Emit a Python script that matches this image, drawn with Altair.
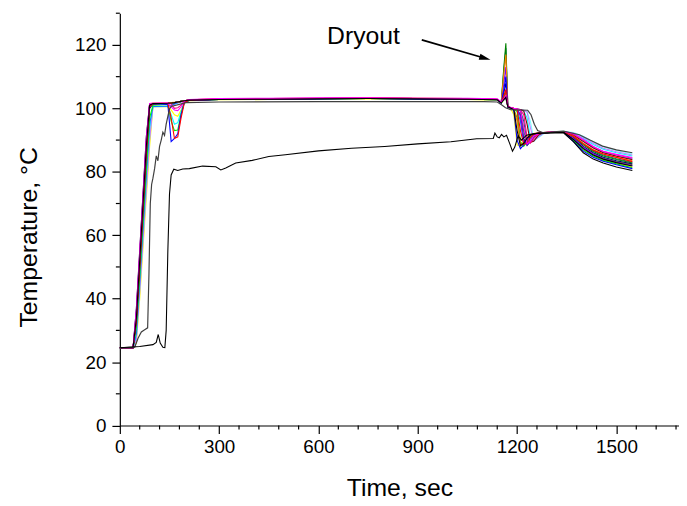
import altair as alt
import pandas as pd

# ---------------- data ----------------
time_s = [0, 40, 50, 60, 70, 80, 90, 100, 145, 155, 165, 175, 185, 195, 210, 300, 450, 600, 750, 900,
          1050, 1140, 1152, 1160, 1166, 1172, 1180, 1190, 1200, 1210, 1220, 1230, 1240, 1250, 1265, 1280,
          1300, 1340, 1370, 1400, 1430, 1460, 1500, 1548]

tc_red = [24.5, 24.5, 33, 50, 68, 86, 100.5, 101.5, 101.6, 97, 90.5, 91, 97, 101.8, 102.6, 102.9, 103.0, 103.1, 103.2, 103.1,
          103.0, 102.8, 101.8, 104, 106, 100.6, 100.2, 99.9, 99.6, 93, 88.6, 89.2, 90.8, 91.8, 92.2, 92.3,
          92.4, 92.6, 91.2, 88.8, 86.8, 85.6, 84.5, 83.2]
tc_blue = [24.5, 24.5, 37, 55, 73, 91, 101.4, 101.5, 101.2, 89.5, 90.5, 92, 98, 102, 102.5, 102.8, 102.9, 103.0, 103.1, 103.0,
           102.9, 102.7, 101.6, 106, 110, 100.4, 100.0, 99.4, 90, 87.3, 88.5, 90.2, 91.5, 92.0, 92.2, 92.3,
           92.4, 92.5, 89.6, 86.5, 84.6, 83.3, 82.2, 81.0]
tc_magenta = [24.5, 24.5, 36, 54, 72, 90, 101.5, 101.6, 101.7, 100.5, 99.5, 99.3, 100.5, 102.3, 102.8, 103.1, 103.2, 103.3, 103.3, 103.2,
              103.2, 103.0, 102.0, 103, 104, 100.6, 100.3, 100.0, 99.8, 99.4, 94, 88.8, 89.6, 91.2, 92.1, 92.4,
              92.5, 92.7, 92.0, 90.2, 88.0, 86.5, 85.5, 84.5]
tc_olive = [24.5, 24.5, 34, 51, 69, 87, 100.8, 101.5, 101.6, 101.7, 101.8, 102.0, 102.2, 102.4, 102.6, 102.8, 102.9, 103.0, 103.1, 103.0,
            102.9, 102.7, 101.7, 103.5, 105, 100.5, 100.1, 99.7, 97, 89, 88.4, 89.8, 91.2, 91.9, 92.2, 92.3,
            92.4, 92.5, 90.4, 87.6, 85.6, 84.3, 83.2, 82.2]
tc_navy = [24.5, 24.5, 33, 50, 67, 85, 100, 101.4, 101.6, 101.7, 101.8, 102.0, 102.2, 102.4, 102.6, 102.8, 103.0, 103.1, 103.1, 103.0,
           103.0, 102.8, 101.8, 105, 108, 100.5, 100.2, 99.9, 99.6, 98, 90.5, 88.3, 89.5, 91.0, 92.0, 92.3,
           92.4, 92.5, 90.8, 88.0, 86.0, 84.6, 83.5, 82.5]
tc_violet = [24.5, 24.5, 35, 53, 71, 89, 101.2, 101.5, 101.6, 101.7, 101.8, 102.0, 102.2, 102.4, 102.6, 102.9, 103.0, 103.1, 103.2, 103.1,
             103.0, 102.8, 101.8, 108, 113, 100.5, 100.2, 99.9, 99.7, 97.5, 89.5, 88.6, 89.8, 91.2, 92.0, 92.3,
             92.4, 92.5, 90.6, 87.6, 85.6, 84.1, 83.0, 82.0]
tc_wine = [24.5, 24.5, 34, 52, 70, 88, 101, 101.5, 101.6, 101.7, 101.8, 102.0, 102.2, 102.4, 102.6, 102.9, 103.0, 103.1, 103.2, 103.1,
           103.0, 102.8, 101.9, 102.8, 103.5, 100.6, 100.3, 100.0, 99.8, 99.6, 99.2, 95, 89.3, 89.6, 91.6, 92.3,
           92.5, 92.7, 91.6, 89.6, 87.6, 86.0, 84.9, 83.8]
tc_darkcyan = [24.5, 24.5, 35, 53, 71, 89, 101.2, 101.5, 101.6, 101.7, 101.8, 102.0, 102.2, 102.4, 102.6, 102.9, 103.0, 103.1, 103.2, 103.1,
               103.0, 102.8, 101.8, 112, 119, 100.6, 100.2, 99.9, 99.7, 99.3, 96, 89.5, 89.2, 90.8, 92.0, 92.3,
               92.4, 92.6, 91.3, 88.8, 86.7, 85.3, 84.1, 83.0]
tc_orange = [24.5, 24.5, 37, 55, 73, 91, 101.5, 101.6, 101.7, 101.8, 101.9, 102.0, 102.2, 102.4, 102.7, 103.0, 103.1, 103.2, 103.3, 103.2,
             103.1, 102.9, 101.9, 111, 117, 100.5, 100.1, 99.6, 96, 88.6, 88.8, 90.4, 91.6, 92.1, 92.3, 92.4,
             92.5, 92.6, 91.2, 89.0, 87.0, 85.6, 84.6, 83.5]
tc_pink = [24.5, 24.5, 36, 54, 72, 90, 101.4, 101.6, 101.7, 101.4, 100.0, 100.2, 101.0, 102.3, 102.7, 103.0, 103.1, 103.2, 103.3, 103.2,
           103.1, 102.9, 101.9, 103, 104, 100.6, 100.3, 100.0, 99.8, 99.5, 98, 91, 89.0, 90.5, 91.9, 92.3,
           92.5, 92.7, 91.8, 89.9, 87.9, 86.4, 85.3, 84.3]
tc_yellow = [24.5, 24.5, 26, 40, 56, 72, 88, 100.5, 100.6, 99.5, 98, 97.5, 99.5, 101.8, 102.4, 102.7, 102.8, 102.9, 103.0, 102.9,
             102.8, 102.6, 101.6, 102.5, 103, 100.4, 100.0, 98, 88.5, 88.0, 89.6, 91.0, 91.8, 92.1, 92.2, 92.3,
             92.4, 92.5, 90.0, 87.0, 85.1, 83.8, 82.7, 81.5]
tc_cyan = [24.5, 24.5, 28, 44, 60, 77, 93, 100.6, 100.6, 98, 95, 95.5, 99, 102.0, 102.5, 102.8, 102.9, 103.0, 103.1, 103.0,
           102.9, 102.7, 101.7, 103, 104, 100.5, 100.2, 99.9, 99.7, 99.5, 99.2, 97, 91, 89.6, 91.2, 92.2,
           92.5, 92.7, 92.1, 90.5, 88.6, 87.1, 86.0, 85.0]
tc_green = [24.5, 24.5, 31, 47, 64, 81, 97, 101.0, 101.2, 96, 93, 93.2, 98, 101.9, 102.5, 102.8, 102.9, 103.0, 103.1, 103.0,
            102.9, 102.7, 101.7, 103, 104, 100.5, 100.1, 99.8, 99.0, 89.5, 88.0, 89.4, 90.9, 91.8, 92.2, 92.3,
            92.4, 92.5, 89.9, 86.9, 85.0, 83.6, 82.5, 81.3]
tc_darkgreen = [24.5, 24.5, 35, 53, 71, 89, 101.2, 101.5, 101.6, 101.7, 101.8, 102.0, 102.2, 102.4, 102.6, 102.9, 103.0, 103.1, 103.2, 103.1,
                103.0, 102.8, 101.8, 113, 120.5, 100.6, 100.2, 99.9, 99.7, 99.2, 93, 89.0, 89.4, 91.0, 92.0, 92.3,
                92.4, 92.6, 91.1, 88.5, 86.4, 85.0, 83.9, 82.8]
tc_royal = [24.5, 24.5, 29, 45, 62, 79, 95, 100.6, 100.7, 101.0, 101.4, 101.8, 102.1, 102.3, 102.6, 102.9, 103.0, 103.1, 103.2, 103.1,
            103.0, 102.8, 101.8, 104, 105, 100.5, 100.2, 99.9, 99.6, 96, 89, 89.2, 90.6, 91.6, 92.1, 92.3,
            92.4, 92.6, 91.6, 89.5, 87.5, 86.1, 85.0, 84.0]
tc_lavender = [24.5, 24.5, 27, 42, 58, 74, 90, 100.5, 100.6, 100.9, 101.3, 101.7, 102.0, 102.3, 102.6, 102.9, 103.0, 103.1, 103.2, 103.1,
               103.0, 102.8, 101.9, 102.6, 103, 100.6, 100.3, 100.0, 99.8, 99.6, 99.4, 98.8, 94, 89.8, 91.0, 92.1,
               92.5, 92.7, 92.2, 90.8, 89.0, 87.4, 86.3, 85.3]
tc_black = [24.5, 24.5, 34, 52, 70, 88, 101, 101.5, 101.6, 101.7, 101.8, 102.0, 102.2, 102.4, 102.6, 102.8, 102.9, 103.0, 103.1, 103.0,
            102.9, 102.7, 101.7, 102.8, 103.5, 100.5, 100.1, 99.6, 93, 88.2, 89.0, 90.6, 91.6, 92.0, 92.2, 92.3,
            92.4, 92.5, 90.2, 87.3, 85.3, 84.0, 82.9, 81.8]
tc_lightcyan = [24.5, 24.5, 28, 43, 59, 75, 91, 100.5, 100.6, 100.9, 101.3, 101.7, 102.0, 102.3, 102.6, 102.9, 103.0, 103.1, 103.2, 103.1,
                103.0, 102.8, 101.9, 102.5, 103, 100.6, 100.3, 100.0, 99.8, 99.6, 99.4, 99.0, 96, 90.5, 90.8, 92.0,
                92.5, 92.8, 92.4, 91.2, 89.4, 87.9, 86.7, 85.6]

series_names = ["TC-yellow", "TC-lightcyan", "TC-cyan", "TC-lavender", "TC-royal", "TC-green", "TC-olive",
                "TC-navy", "TC-wine", "TC-darkcyan", "TC-darkgreen", "TC-violet", "TC-orange", "TC-blue",
                "TC-red", "TC-pink", "TC-magenta", "TC-black"]
series_values = [tc_yellow, tc_lightcyan, tc_cyan, tc_lavender, tc_royal, tc_green, tc_olive,
                 tc_navy, tc_wine, tc_darkcyan, tc_darkgreen, tc_violet, tc_orange, tc_blue,
                 tc_red, tc_pink, tc_magenta, tc_black]
series_colors = ["#FFFF00", "#80FFFF", "#00FFFF", "#C080FF", "#0080FF", "#00FF00", "#808000",
                 "#000080", "#800000", "#008080", "#008000", "#8000FF", "#FF8000", "#0000FF",
                 "#FF0000", "#FF0080", "#FF00FF", "#000000"]

# slow-responding thermocouple (dark gray)
slow_tc = [(0, 24.5), (45, 24.7), (55, 27.5), (65, 29.5), (75, 30.2), (84, 30.8), (88, 48), (92, 70), (96, 76),
           (100, 78), (105, 81), (110, 85), (115, 83.5), (120, 88), (125, 90), (130, 92.5), (135, 91.5),
           (140, 95), (145, 97.5), (150, 99.8), (155, 100.6), (200, 101.8), (300, 102.0), (600, 102.1),
           (900, 102.1), (1100, 102.1), (1140, 102.0), (1155, 101.0), (1165, 100.2), (1180, 99.6),
           (1232, 99.4), (1242, 98.0), (1252, 95.0), (1262, 93.0), (1277, 92.4), (1300, 92.5), (1340, 92.8),
           (1388, 91.7), (1420, 90.0), (1458, 88.1), (1500, 86.9), (1548, 86.0)]

# lowest thermocouple (black)
low_tc = [(0, 24.5), (60, 24.9), (100, 25.5), (110, 26.2), (116, 28.7), (122, 26.0), (130, 24.7), (136, 24.6),
          (140, 30), (145, 55), (150, 73), (155, 79), (163, 80.8), (175, 80.4), (190, 80.9), (210, 81.0),
          (250, 81.8), (290, 81.6), (305, 80.6), (320, 81.2), (350, 82.8), (400, 83.6), (450, 84.8),
          (500, 85.4), (600, 86.6), (700, 87.4), (800, 88.0), (900, 88.8), (1000, 89.5), (1078, 90.4),
          (1128, 90.5), (1133, 92.2), (1140, 91.0), (1146, 90.7), (1153, 91.8), (1160, 91.0), (1168, 91.5),
          (1178, 88.8), (1186, 86.5), (1193, 87.8), (1203, 91.4), (1213, 90.0), (1228, 91.5), (1240, 91.8),
          (1260, 92.1), (1290, 92.2), (1340, 92.3), (1370, 89.5), (1400, 86.0), (1430, 84.0), (1460, 82.8),
          (1500, 81.5), (1548, 80.4)]

# annotation
annot_label = ["Dryout"]
annot_t = [626]
annot_T = [120.3]
arrow_t0, arrow_T0 = [912], [121.6]
arrow_t1, arrow_T1 = [1103], [115.8]

# axis ticks
x_major = [0, 300, 600, 900, 1200, 1500]
x_minor = [60, 120, 180, 240, 360, 420, 480, 540, 660, 720, 780, 840, 960, 1020, 1080, 1140,
           1260, 1320, 1380, 1440, 1560, 1620, 1680]
y_major = [0, 20, 40, 60, 80, 100, 120]
y_minor = [10, 30, 50, 70, 90, 110, 130]

# ---------------- build chart ----------------
FONT = "Liberation Sans"
W, H = 565, 416.6
XMAX, YMAX = 1689, 130

rows = []
for name, vals in zip(series_names, series_values):
    assert len(vals) == len(time_s), name
    for t, v in zip(time_s, vals):
        rows.append({"series": name, "t": t, "T": v})
df = pd.DataFrame(rows)
df_slow = pd.DataFrame(slow_tc, columns=["t", "T"])
df_low = pd.DataFrame(low_tc, columns=["t", "T"])

xscale = alt.Scale(domain=[0, XMAX], nice=False, zero=False)
yscale = alt.Scale(domain=[0, YMAX], nice=False, zero=False)

xaxis = alt.Axis(values=x_major, format="d", tickSize=8, tickWidth=1.2, domainWidth=1.2, domainColor="black",
                 tickColor="black", labelColor="black", labelFont=FONT, labelFontSize=19,
                 labelPadding=4, labelFlush=False, grid=False, title="Time, sec", titleFont=FONT,
                 titleFontSize=25, titleFontWeight="normal", titleColor="black", titlePadding=20)
yaxis = alt.Axis(values=y_major, format="d", tickSize=8, tickWidth=1.2, domainWidth=1.2, domainColor="black",
                 tickColor="black", labelColor="black", labelFont=FONT, labelFontSize=19,
                 labelPadding=6, labelFlush=False, grid=False, title="Temperature, °C", titleFont=FONT,
                 titleFontSize=25, titleFontWeight="normal", titleColor="black", titlePadding=33,
                 titleY=226)

lines = alt.Chart(df).mark_line(strokeWidth=1.1).encode(
    x=alt.X("t:Q", scale=xscale, axis=xaxis),
    y=alt.Y("T:Q", scale=yscale, axis=yaxis),
    color=alt.Color("series:N", scale=alt.Scale(domain=series_names, range=series_colors), legend=None),
    order=alt.Order("t:Q"),
)
slow_line = alt.Chart(df_slow).mark_line(strokeWidth=1.2, color="#404040").encode(x="t:Q", y="T:Q", order="t:Q")
low_line = alt.Chart(df_low).mark_line(strokeWidth=1.1, color="#000000").encode(x="t:Q", y="T:Q", order="t:Q")

df_text = pd.DataFrame({"label": annot_label, "t": annot_t, "T": annot_T})
text = alt.Chart(df_text).mark_text(font=FONT, fontSize=25, align="left", baseline="alphabetic",
                                    color="black").encode(x="t:Q", y="T:Q", text="label:N")

df_arrow = pd.DataFrame({"t": arrow_t0, "T": arrow_T0, "t2": arrow_t1, "T2": arrow_T1})
arrow = alt.Chart(df_arrow).mark_rule(strokeWidth=1.8, color="black").encode(
    x="t:Q", y="T:Q", x2="t2:Q", y2="T2:Q")
head = alt.Chart(df_arrow).mark_point(shape="M-1,-0.55L1,0L-1,0.55Z", filled=True, size=130,
                                      angle=16, color="black", opacity=1).encode(x="t2:Q", y="T2:Q")

df_xminor = pd.DataFrame({"t": x_minor})
xminor = alt.Chart(df_xminor).mark_rule(color="black", strokeWidth=1.2).encode(
    x="t:Q", y=alt.value(H), y2=alt.value(H + 4))
df_yminor = pd.DataFrame({"T": y_minor})
yminor = alt.Chart(df_yminor).mark_rule(color="black", strokeWidth=1.2).encode(
    y="T:Q", x=alt.value(0), x2=alt.value(-4))

chart = alt.layer(lines, slow_line, low_line, arrow, head, text, xminor, yminor).properties(
    width=W, height=H,
    autosize=alt.AutoSizeParams(type="none"),
    padding={"left": 113, "top": 2.7, "right": 0, "bottom": 75},
).configure_view(stroke=None)

chart.save("out.html", embed_options={"renderer": "svg", "actions": False})
